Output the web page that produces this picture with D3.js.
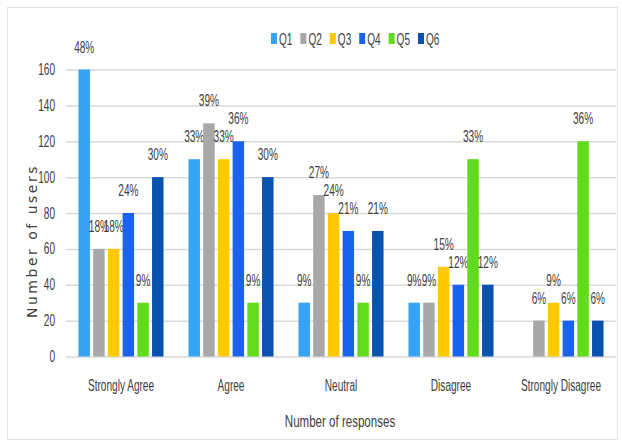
<!DOCTYPE html>
<html>
<head>
<meta charset="utf-8">
<script src="https://cdn.jsdelivr.net/npm/d3@7"></script>
<style>
  body { margin: 0; background: #fff; }
  svg text { font-family: "Liberation Sans", Arial, sans-serif; fill: #404040; }
</style>
</head>
<body>
<div class="container"></div>
<script>
const categories = ['Strongly Agree', 'Agree', 'Neutral', 'Disagree', 'Strongly Disagree'],
    series = ['Q1', 'Q2', 'Q3', 'Q4', 'Q5', 'Q6'],
    colors = ['#35a4f4', '#a8a8a8', '#ffc800', '#1b62ec', '#62dc1a', '#0a52b0'];

// users per category, one array per question
const q1 = [160, 110, 30, 30, 0],
    q2 = [60, 130, 90, 30, 20],
    q3 = [60, 110, 80, 50, 30],
    q4 = [80, 120, 70, 40, 20],
    q5 = [30, 30, 30, 110, 120],
    q6 = [100, 100, 70, 40, 20];

const p1 = ['48%', '33%', '9%', '9%', ''],
    p2 = ['18%', '39%', '27%', '9%', '6%'],
    p3 = ['18%', '33%', '24%', '15%', '9%'],
    p4 = ['24%', '36%', '21%', '12%', '6%'],
    p5 = ['9%', '9%', '9%', '33%', '36%'],
    p6 = ['30%', '30%', '21%', '12%', '6%'];

const yTicks = [0, 20, 40, 60, 80, 100, 120, 140, 160];

const values = [q1, q2, q3, q4, q5, q6],
    labels = [p1, p2, p3, p4, p5, p6];

const width = 622, height = 441,
    margin = {top: 69.5, right: 6, bottom: 84.5, left: 66},
    narrow = 0.63;

// the original uses a condensed face, so squeeze text horizontally
const squeeze = (sel, k) => sel.each(function () {
    const t = d3.select(this),
        x = +t.attr('x') || 0,
        y = +t.attr('y') || 0;
    t.attr('x', 0).attr('y', 0)
        .attr('transform', `translate(${x}, ${y}) scale(${k}, 1)`);
});

const svg = d3.select('.container')
    .append('svg')
    .attr('width', width)
    .attr('height', height);

// outer frame
svg.append('rect')
    .attr('x', 7.5).attr('y', 7.5)
    .attr('width', width - 12).attr('height', height - 9)
    .attr('fill', 'none')
    .attr('stroke', '#e3e3e3');

const x0 = d3.scaleBand()
    .domain(categories)
    .range([margin.left, width - margin.right])
    .paddingInner(0.2)
    .paddingOuter(0.1);

const x1 = d3.scaleBand()
    .domain(series)
    .range([0, x0.bandwidth()])
    .paddingInner(0.22)
    .paddingOuter(0.1);

const yScale = d3.scaleLinear()
    .domain([0, 160])
    .range([height - margin.bottom, margin.top]);

// gridlines + tick labels
const yAxis = d3.axisLeft(yScale)
    .tickValues(yTicks)
    .tickSize(-(width - margin.right - margin.left))
    .tickPadding(11);

const gy = svg.append('g')
    .attr('transform', `translate(${margin.left}, 0)`)
    .call(yAxis);
gy.select('.domain').remove();
gy.selectAll('line').attr('stroke', '#d9d9d9').attr('stroke-width', 1.5);
gy.selectAll('text')
    .style('font-size', '16px')
    .style('font-family', '"Liberation Sans", sans-serif')
    .attr('fill', '#404040')
    .call(squeeze, narrow);

// bars
const groups = svg.append('g')
    .selectAll('g')
    .data(series)
    .join('g')
    .attr('fill', (d, i) => colors[i]);

groups.selectAll('rect')
    .data((s, i) => categories.map((c, j) => ({c, v: values[i][j], s})))
    .join('rect')
    .attr('x', d => x0(d.c) + x1(d.s))
    .attr('y', d => yScale(d.v))
    .attr('width', x1.bandwidth())
    .attr('height', d => yScale(0) - yScale(d.v));

// percentage labels
groups.selectAll('text')
    .data((s, i) => categories.map((c, j) => ({c, v: values[i][j], s, t: labels[i][j]})))
    .join('text')
    .attr('x', d => x0(d.c) + x1(d.s) + x1.bandwidth() / 2)
    .attr('y', d => yScale(d.v) - 17)
    .attr('text-anchor', 'middle')
    .style('font-size', '16px')
    .attr('fill', '#404040')
    .text(d => d.t)
    .call(squeeze, narrow);

// category axis
const xAxis = d3.axisBottom(x0).tickSize(0).tickPadding(23);
const gx = svg.append('g')
    .attr('transform', `translate(0, ${yScale(0)})`)
    .call(xAxis);
gx.select('.domain').remove();
gx.selectAll('text')
    .style('font-size', '16px')
    .style('font-family', '"Liberation Sans", sans-serif')
    .attr('fill', '#404040')
    .call(squeeze, narrow);

// axis titles
svg.append('text')
    .attr('x', 340)
    .attr('y', 427)
    .attr('text-anchor', 'middle')
    .style('font-size', '17px')
    .text('Number of responses')
    .call(squeeze, 0.68);

svg.append('text')
    .attr('transform', 'translate(37, 241) rotate(-90)')
    .attr('text-anchor', 'middle')
    .style('font-family', '"DejaVu Sans", sans-serif')
    .style('font-size', '14px')
    .style('letter-spacing', '2.5px')
    .attr('fill', '#505050')
    .text('Number of users');

// legend
const legend = svg.append('g')
    .selectAll('g')
    .data(series)
    .join('g')
    .attr('transform', (d, i) => `translate(${271 + i * 29.4}, 39)`);

legend.append('rect')
    .attr('x', 0).attr('y', -6)
    .attr('width', 6).attr('height', 11)
    .attr('fill', (d, i) => colors[i]);

legend.append('text')
    .attr('x', 8).attr('y', 6)
    .style('font-size', '16px')
    .text(d => d)
    .call(squeeze, narrow);
</script>
</body>
</html>
